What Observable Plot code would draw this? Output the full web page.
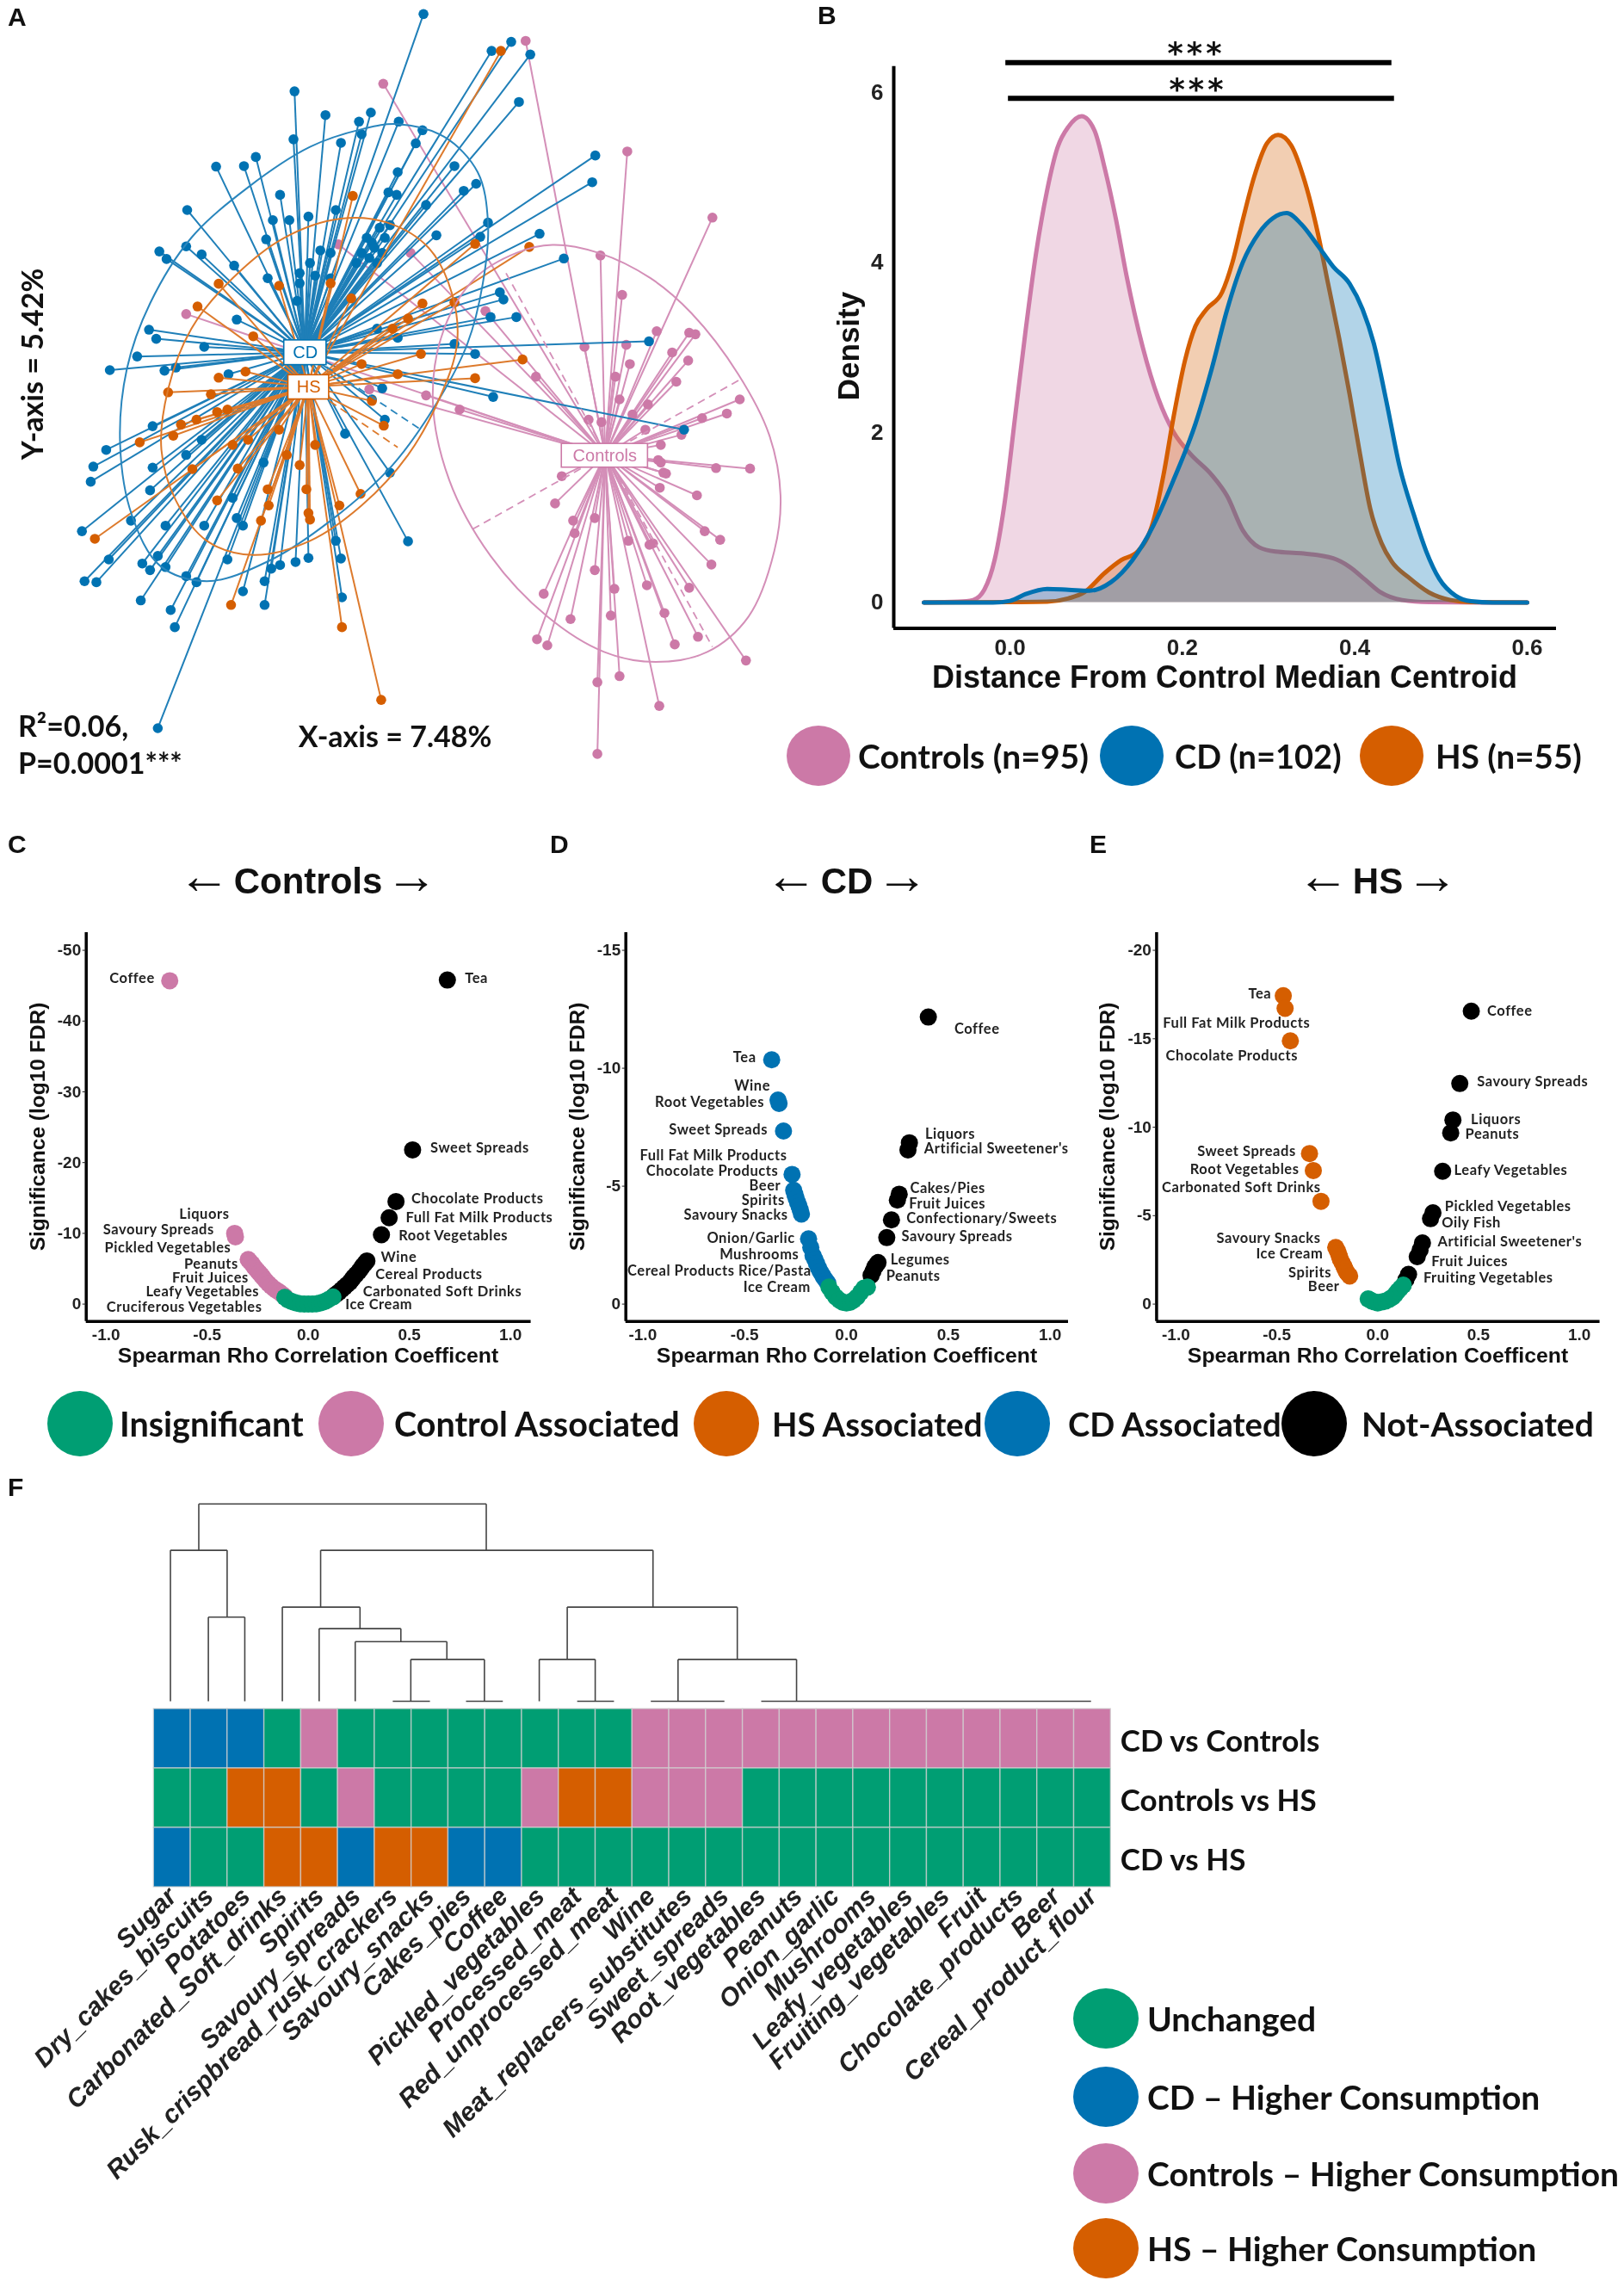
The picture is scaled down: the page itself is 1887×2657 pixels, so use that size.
<!DOCTYPE html>
<html><head><meta charset="utf-8">
<script src="https://cdn.jsdelivr.net/npm/d3@7"></script>
<script src="https://cdn.jsdelivr.net/npm/@observablehq/plot@0.6"></script>
<style>
html,body{margin:0;padding:0;background:#fff}
#fig{position:relative;width:1887px;height:2657px;overflow:hidden;background:#fff;filter:blur(0.6px)}
#fig svg{position:absolute;background:transparent;overflow:visible}
.t{position:absolute;white-space:nowrap;line-height:1;color:#111}
.t span{line-height:0}
.dot{position:absolute;border-radius:50%}
.vlabel text{letter-spacing:.55px}
</style></head><body><div id="fig"></div>
<script>
// ---------- palette
const PINK="#CC79A7",BLUE="#0072B2",ORANGE="#D55E00",GREEN="#009E73",BLACK="#000";
const SANS="Liberation Sans",HUM="Lato";

// ---------- Panel A: ordination scores (arbitrary ordination units)
const centroidCD=[590,697], centroidHS=[597,765], centroidControls=[1172,900];
const scoresCD=[[820,27],[990,82],[952,100],[1027,107],[1005,201],[570,180],[630,227],[695,240],[718,222],[772,240],[818,257],[700,265],[568,275],[660,282],[805,283],[1153,307],[1147,360],[495,310],[472,328],[418,329],[880,328],[770,340],[922,363],[898,377],[752,380],[768,385],[542,385],[362,415],[825,405],[650,415],[528,435],[560,435],[597,428],[945,440],[845,465],[515,473],[360,487],[308,497],[322,512],[390,503],[453,525],[1045,462],[1092,511],[930,468],[620,495],[720,480],[735,450],[700,500],[715,510],[740,500],[518,550],[580,540],[610,545],[640,550],[968,578],[975,592],[1000,627],[950,627],[458,632],[288,652],[302,670],[395,686],[265,705],[212,732],[318,733],[340,727],[442,740],[1257,675],[920,700],[770,668],[880,680],[730,650],[955,785],[740,768],[1325,850],[720,790],[295,843],[205,890],[180,923],[175,953],[295,925],[290,970],[390,870],[360,900],[158,1051],[253,1030],[320,1040],[210,1107],[163,1150],[186,1152],[275,1115],[290,1128],[305,1100],[320,1122],[360,1140],[380,1152],[272,1188],[330,1207],[338,1241],[440,1107],[470,1170],[512,1150],[512,1197],[525,1125],[542,1118],[572,1112],[597,1104],[660,1105],[662,1182],[790,1071],[755,935],[668,858],[745,830],[305,1441],[470,1040],[458,1025],[450,985],[510,915],[650,1070],[395,1040],[725,490],[710,470],[745,470],[690,520],[730,520],[755,445],[580,560],[600,520],[575,595],[640,500]];
const scoresHS=[[970,100],[683,387],[920,482],[1025,488],[423,561],[382,606],[818,600],[880,598],[1012,711],[815,700],[920,748],[770,740],[720,793],[743,842],[325,776],[423,747],[475,735],[270,875],[335,862],[408,780],[183,1066],[372,928],[450,880],[460,927],[593,968],[657,1000],[698,977],[597,1015],[600,1028],[505,1030],[518,968],[447,1197],[662,1241],[738,1385],[610,880],[555,900],[540,565],[490,665],[640,560],[680,590],[760,650],[790,630],[350,840],[380,830],[420,815],[440,810],[480,870],[540,850],[580,920],[520,1000],[420,990],[700,720]];
const scoresControls=[[1018,80],[742,165],[1215,299],[1380,430],[1163,505],[1205,583],[1272,655],[1335,658],[1347,661],[1302,697],[1333,713],[1310,755],[1132,686],[1213,682],[1220,720],[1192,745],[1038,745],[1433,790],[1408,818],[1360,827],[1320,860],[1250,850],[1165,835],[890,810],[825,782],[715,770],[940,615],[795,500],[655,483],[360,621],[1280,880],[1275,910],[1280,915],[1285,935],[1290,937],[1387,926],[1453,927],[1088,942],[1075,996],[1278,965],[1350,980],[1110,1030],[1152,1025],[1113,1055],[1365,1051],[1395,1068],[1217,1070],[1258,1078],[1265,1075],[1378,1117],[1152,1128],[1053,1175],[1190,1165],[1253,1158],[1335,1163],[1105,1225],[1183,1218],[1287,1213],[1040,1265],[1060,1277],[1307,1275],[1352,1260],[1200,1338],[1157,1350],[1445,1307],[1277,1397],[1157,1492],[1255,800],[1225,820],[1200,790],[1140,830]];
const ellipseCD=[[232,880],[245,730],[290,600],[370,470],[480,370],[600,290],[700,255],[770,245],[860,270],[925,340],[945,440],[935,560],[905,680],[850,790],[760,920],[640,1030],[520,1110],[400,1150],[310,1120],[255,1020]];
const ellipseHS=[[312,890],[325,770],[370,650],[450,550],[550,470],[660,432],[750,440],[830,490],[875,580],[885,680],[850,790],[790,900],[700,1000],[600,1070],[490,1098],[400,1070],[340,990]];
const ellipseControls=[[838,790],[860,650],[920,550],[1000,500],[1070,484],[1160,500],[1260,550],[1340,620],[1430,740],[1490,860],[1512,980],[1500,1090],[1450,1220],[1370,1290],[1270,1310],[1170,1290],[1060,1220],[950,1100],[870,950]];
const axesControls=[[[915,1047],[1435,750]],[[980,540],[1380,1280]]];
const axesCD=[[[590,697],[815,850]]];
const axesHS=[[[597,765],[770,885]]];
const ordinationBoxes=[
 {name:"CD",x1:550,y1:673,x2:632,y2:722,color:BLUE},
 {name:"HS",x1:558,y1:742,x2:637,y2:790,color:ORANGE},
 {name:"Controls",x1:1088,y1:878,x2:1255,y2:925,color:PINK}];

// ---------- Panel B: densities
const densityControls=[[-0.1,0],[-0.06,0.01],[-0.043,0.03],[-0.03,0.15],[-0.018,0.5],[-0.006,1.2],[0.006,2.2],[0.018,3.2],[0.03,4.1],[0.043,4.85],[0.055,5.35],[0.068,5.6],[0.083,5.72],[0.098,5.55],[0.11,5.1],[0.123,4.5],[0.135,3.85],[0.154,3.0],[0.172,2.4],[0.19,2.0],[0.209,1.75],[0.234,1.5],[0.252,1.25],[0.27,0.85],[0.289,0.65],[0.308,0.6],[0.338,0.58],[0.375,0.52],[0.394,0.42],[0.412,0.27],[0.43,0.12],[0.455,0.03],[0.486,0.005],[0.548,0],[0.6,0]];
const densityHS=[[-0.1,0],[0,0.005],[0.043,0.01],[0.068,0.05],[0.086,0.12],[0.11,0.35],[0.129,0.5],[0.148,0.6],[0.166,0.95],[0.178,1.5],[0.19,2.2],[0.203,2.85],[0.215,3.25],[0.228,3.45],[0.246,3.65],[0.258,4.0],[0.27,4.5],[0.283,5.0],[0.298,5.4],[0.311,5.5],[0.326,5.38],[0.342,4.95],[0.357,4.35],[0.369,3.75],[0.382,3.1],[0.394,2.45],[0.406,1.75],[0.418,1.1],[0.431,0.7],[0.443,0.48],[0.462,0.3],[0.486,0.12],[0.511,0.03],[0.535,0.005],[0.6,0]];
const densityCD=[[-0.1,0],[-0.02,0],[0,0.02],[0.018,0.1],[0.043,0.16],[0.068,0.15],[0.092,0.14],[0.117,0.24],[0.142,0.5],[0.166,0.9],[0.19,1.45],[0.215,2.1],[0.234,2.75],[0.252,3.45],[0.27,4.0],[0.289,4.35],[0.305,4.52],[0.321,4.58],[0.338,4.45],[0.357,4.2],[0.375,3.95],[0.394,3.75],[0.409,3.45],[0.422,3.05],[0.437,2.35],[0.452,1.6],[0.468,1.05],[0.483,0.6],[0.498,0.28],[0.517,0.08],[0.535,0.015],[0.56,0],[0.6,0]];
const sigBars=[{x1:-0.005,x2:0.443,y:6.35},{x1:-0.002,x2:0.446,y:5.93}];

// ---------- Panels C, D, E: volcano values [rho, log10 FDR]
const controlsBlack=[[.688,-45.8],[.516,-21.8],[.434,-14.5],[.4,-12.2],[.362,-9.8],[.29,-6.1],[.28,-5.75],[.269,-5.4],[.26,-5],[.25,-4.6],[.237,-4.2],[.224,-3.8],[.215,-3.45],[.206,-3.1],[.192,-2.75],[.179,-2.4],[.165,-2.05],[.152,-1.7],[.138,-1.4],[.125,-1.1]];
const controlsPink=[[-.685,-45.7],[-.364,-10],[-.36,-9.5],[-.297,-6.3],[-.288,-6],[-.278,-5.7],[-.269,-5.3],[-.26,-5],[-.251,-4.7],[-.242,-4.4],[-.233,-4.1],[-.224,-3.8],[-.21,-3.3],[-.197,-2.9],[-.184,-2.55],[-.17,-2.2],[-.157,-1.95],[-.143,-1.7],[-.13,-1.4],[-.116,-1.1]];
const controlsGreen=[[-.116,-.95],[-.1,-.6],[-.085,-.4],[-.07,-.25],[-.055,-.12],[-.04,-.05],[-.02,0],[0,0],[.02,0],[.04,-.05],[.055,-.12],[.07,-.25],[.085,-.4],[.1,-.65],[.122,-1]];
const controlsLabels=[["Coffee",-.871,-46],["Tea",.832,-46],["Sweet Spreads",.848,-22.1],["Chocolate Products",.837,-14.9],["Full Fat Milk Products",.846,-12.2],["Root Vegetables",.717,-9.7],["Wine",.448,-6.6],["Cereal Products",.597,-4.2],["Carbonated Soft Drinks",.663,-1.8],["Ice Cream",.349,.1],["Liquors",-.514,-12.7],["Savoury Spreads",-.74,-10.5],["Pickled Vegetables",-.695,-7.9],["Peanuts",-.48,-5.7],["Fruit Juices",-.484,-3.7],["Leafy Vegetables",-.523,-1.7],["Cruciferous Vegetables",-.613,.4]];

const cdBlack=[[.402,-12.17],[.309,-6.84],[.302,-6.54],[.259,-4.66],[.25,-4.41],[.221,-3.57],[.198,-2.82],[.155,-1.76],[.147,-1.66],[.138,-1.56],[.13,-1.39],[.121,-1.22]];
const cdBlue=[[-.367,-10.36],[-.336,-8.65],[-.331,-8.51],[-.309,-7.34],[-.267,-5.5],[-.259,-4.83],[-.253,-4.65],[-.247,-4.49],[-.24,-4.32],[-.233,-4.16],[-.227,-4],[-.221,-3.82],[-.186,-2.77],[-.175,-2.4],[-.164,-2.06],[-.155,-1.9],[-.147,-1.73],[-.138,-1.55],[-.129,-1.39],[-.12,-1.26],[-.112,-1.14],[-.1,-1],[-.091,-.89]];
const cdGreen=[[-.086,-.72],[-.07,-.5],[-.052,-.3],[-.035,-.17],[-.018,-.08],[0,-.05],[.018,-.08],[.035,-.17],[.052,-.3],[.07,-.5],[.086,-.68],[.103,-.72]];
const cdLabels=[["Tea",-.5,-10.44],["Wine",-.462,-9.23],["Root Vegetables",-.672,-8.56],["Sweet Spreads",-.629,-7.37],["Full Fat Milk Products",-.653,-6.28],["Chocolate Products",-.659,-5.62],["Beer",-.4,-5],["Spirits",-.409,-4.38],["Savoury Snacks",-.543,-3.76],["Onion/Garlic",-.469,-2.78],["Mushrooms",-.428,-2.11],["Cereal Products Rice/Pasta",-.624,-1.39],["Ice Cream",-.341,-.72],["Coffee",.641,-11.66],["Liquors",.509,-7.21],["Artificial Sweetener's",.736,-6.59],["Cakes/Pies",.497,-4.91],["Fruit Juices",.495,-4.24],["Confectionary/Sweets",.664,-3.62],["Savoury Spreads",.543,-2.85],["Legumes",.362,-1.86],["Peanuts",.328,-1.17]];

const hsBlack=[[.464,-16.56],[.407,-12.47],[.373,-10.41],[.362,-9.68],[.322,-7.51],[.274,-5.16],[.262,-4.83],[.222,-3.46],[.21,-3.05],[.196,-2.68],[.153,-1.68],[.14,-1.38]];
const hsOrange=[[-.468,-17.43],[-.459,-16.72],[-.433,-14.88],[-.338,-8.51],[-.319,-7.55],[-.281,-5.81],[-.208,-3.2],[-.2,-3.03],[-.194,-2.86],[-.19,-2.7],[-.185,-2.53],[-.176,-2.34],[-.168,-2.15],[-.162,-2],[-.156,-1.85],[-.148,-1.72],[-.139,-1.59]];
const hsGreen=[[-.047,-.29],[-.038,-.24],[-.03,-.18],[-.015,-.12],[0,-.07],[.02,-.12],[.04,-.18],[.058,-.28],[.075,-.4],[.088,-.56],[.1,-.74],[.113,-.9],[.127,-1.07]];
const hsLabels=[["Tea",-.584,-17.54],["Full Fat Milk Products",-.7,-15.89],["Chocolate Products",-.723,-14.03],["Sweet Spreads",-.65,-8.63],["Root Vegetables",-.66,-7.6],["Carbonated Soft Drinks",-.676,-6.61],["Savoury Snacks",-.541,-3.71],["Ice Cream",-.437,-2.84],["Spirits",-.336,-1.79],["Beer",-.267,-1.01],["Coffee",.655,-16.56],["Savoury Spreads",.768,-12.56],["Liquors",.586,-10.41],["Peanuts",.568,-9.61],["Leafy Vegetables",.66,-7.58],["Pickled Vegetables",.646,-5.5],["Oily Fish",.464,-4.58],["Artificial Sweetener's",.655,-3.53],["Fruit Juices",.456,-2.41],["Fruiting Vegetables",.548,-1.47]];

// ---------- Panel F: heatmap + dendrogram
const foods=["Sugar","Dry_cakes_biscuits","Potatoes","Carbonated_Soft_drinks","Spirits","Savoury_spreads","Rusk_crispbread_rusk_crackers","Savoury_snacks","Cakes_pies","Coffee","Pickled_vegetables","Processed_meat","Red_unprocessed_meat","Wine","Meat_replacers_substitutes","Sweet_spreads","Root_vegetables","Peanuts","Onion_garlic","Mushrooms","Leafy_vegetables","Fruiting_vegetables","Fruit","Chocolate_products","Beer","Cereal_product_flour"];
const contrasts=["CD vs Controls","Controls vs HS","CD vs HS"];
const cdVsControls="D D D U C U U U U U U U U C C C C C C C C C C C C C".split(" ");
const controlsVsHS="U U H H U C U U U U C H H C C C U U U U U U U U U U".split(" ");
const cdVsHS="D U U H H D H H D D U U U U U U U U U U U U U U U U".split(" ");
const statusCodes=["U","D","C","H"], statusColors=[GREEN,BLUE,PINK,ORANGE];
// merges: left position, right position, height, left child height, right child height
const merges=[[1.22,9.03,1,.765,.765],[.45,1.99,.765,0,.426],[1.48,2.47,.426,0,0],[4.53,13.56,.765,.477,.477],[3.49,5.6,.477,0,.368],[4.49,6.71,.368,0,.302],[5.47,7.96,.302,0,.212],[6.98,8.98,.212,0,0],[11.23,15.85,.477,.212,.212],[10.47,11.99,.212,0,0],[14.24,17.46,.212,0,0],[6.49,7.5,0,0,0],[8.48,9.48,0,0,0],[11.5,12.5,0,0,0],[13.5,15.5,0,0,0],[16.5,25.46,0,0,0]];

// ---------- helpers
const fig=document.getElementById("fig");
function place(svg,left,top){svg.style.left=left+"px";svg.style.top=top+"px";fig.appendChild(svg);return svg;}
function txt(s,x,y,o={}){const d=document.createElement("div");d.className="t";d.innerHTML=s;
 const a=o.anchor||"left";const tx=a==="center"?"-50%":"0";
 d.style.cssText+=`left:${x}px;top:${y}px;font-family:'${o.family||SANS}';font-size:${o.size||20}px;font-weight:${o.weight||700};color:${o.color||"#111"};transform:translate(${tx},-50%)${o.rotate?` rotate(${o.rotate}deg)`:""};${o.extra||""}`;
 fig.appendChild(d);return d;}
function swatch(x,y,rx,ry,c){const d=document.createElement("div");d.className="dot";d.style.cssText+=`left:${x-rx}px;top:${y-ry}px;width:${2*rx}px;height:${2*ry}px;background:${c}`;fig.appendChild(d);}
const xy={x:d=>d[0],y:d=>d[1]};

// ---------- Panel A
place(Plot.plot({width:940,height:920,margin:0,
 x:{domain:[0,1568],axis:null},y:{domain:[1568,0],axis:null},
 marks:[
  ...[[scoresControls,centroidControls,PINK,"#d48fb8"],[scoresCD,centroidCD,BLUE,"#1f7fb8"],[scoresHS,centroidHS,ORANGE,"#dd7a2c"]].flatMap(([s,c,col,lin])=>[
    Plot.link(s,{x1:()=>c[0],y1:()=>c[1],x2:d=>d[0],y2:d=>d[1],stroke:lin,strokeWidth:2}),
    Plot.dot(s,{...xy,r:5.8,fill:col})]),
  Plot.line(ellipseControls,{...xy,curve:"catmull-rom-closed",stroke:"#d48fb8",strokeWidth:2}),
  Plot.line(ellipseCD,{...xy,curve:"catmull-rom-closed",stroke:"#2a86bd",strokeWidth:2}),
  Plot.line(ellipseHS,{...xy,curve:"catmull-rom-closed",stroke:"#dd7a2c",strokeWidth:2}),
  ...[[axesControls,"#d48fb8"],[axesCD,"#2a86bd"],[axesHS,"#dd7a2c"]].map(([a,c])=>
    Plot.link(a,{x1:d=>d[0][0],y1:d=>d[0][1],x2:d=>d[1][0],y2:d=>d[1][1],stroke:c,strokeWidth:1.8,strokeDasharray:"9,6"})),
  Plot.rect(ordinationBoxes,{x1:"x1",x2:"x2",y1:"y1",y2:"y2",fill:"#fff",stroke:"color",strokeWidth:1.6}),
  Plot.text(ordinationBoxes,{x:d=>(d.x1+d.x2)/2,y:d=>(d.y1+d.y2)/2,text:"name",fill:"color",fontSize:20,fontFamily:SANS})
 ]}),0,0);
txt("A",9,20,{size:30});
txt("Y-axis = 5.42%",37,423,{size:34,family:HUM,anchor:"center",rotate:-90});
txt("X-axis = 7.48%",459,855,{size:34,family:HUM,anchor:"center"});
txt("R²=0.06,",21,843,{size:34,family:HUM});
txt("P=0.0001***",21,886,{size:34,family:HUM});

// ---------- Panel B
const curve="monotone-x";
place(Plot.plot({width:927,height:860,marginLeft:78,marginRight:79,marginTop:76.7,marginBottom:130.4,
 x:{domain:[-0.135,0.634]},y:{domain:[-0.304,6.305]},
 marks:[
  ...[[densityControls,PINK],[densityHS,ORANGE],[densityCD,BLUE]].flatMap(([s,c])=>[
    Plot.areaY(s,{...xy,curve,fill:c,fillOpacity:.3}),
    Plot.line(s,{...xy,curve,stroke:c,strokeWidth:5})]),
  Plot.ruleX([-0.135],{strokeWidth:4,stroke:"#000"}),
  Plot.ruleY([-0.304],{strokeWidth:4,stroke:"#000"}),
  Plot.ruleY(sigBars,{x1:"x1",x2:"x2",y:"y",stroke:"#000",strokeWidth:6}),
  Plot.axisX({ticks:[0,.2,.4,.6],tickFormat:d=>d.toFixed(1),tickSize:0,tickPadding:12,fontSize:26,fontWeight:700,fontFamily:SANS,label:null,color:"#222"}),
  Plot.axisY({ticks:[0,2,4,6],tickFormat:d=>String(d),tickSize:0,tickPadding:12,fontSize:26,fontWeight:700,fontFamily:SANS,label:null,color:"#222"})
 ]}),960,0);
txt("B",950,18,{size:30});
txt("***",1390,62,{size:35,anchor:"center",family:"DejaVu Sans",extra:"letter-spacing:4px;"});
txt("***",1392,104,{size:35,anchor:"center",family:"DejaVu Sans",extra:"letter-spacing:4px;"});
txt("Density",985,402,{size:35,anchor:"center",rotate:-90});
txt("Distance From Control Median Centroid",1423,787,{size:36,anchor:"center"});
[[951,PINK,"Controls (n=95)",997,39],[1315,BLUE,"CD (n=102)",1365,38],[1617,ORANGE,"HS (n=55)",1668,38.5]].forEach(([x,c,s,tx,sz])=>{swatch(x,878,37,35,c);txt(s,tx,878,{size:sz,family:HUM});});

// ---------- Panels C, D, E
function volcano({left,axisL,axisR,xDomain,yDomain,yTicks,groups,labels}){
 const top=1060,h=560,w=axisR-left+30;
 place(Plot.plot({width:w,height:h,marginLeft:axisL-left,marginRight:w-(axisR-left),marginTop:23,marginBottom:85.2,
  x:{domain:xDomain},y:{domain:yDomain},
  marks:[
   ...groups.map(([s,c])=>Plot.dot(s,{...xy,r:10,fill:c})),
   Plot.text(labels,{x:d=>d[1],y:d=>d[2],text:d=>d[0],fontSize:16.5,fontWeight:700,fontFamily:HUM,fill:"#222",className:"vlabel"}),
   Plot.ruleX([xDomain[0]],{strokeWidth:3.5,stroke:"#000"}),
   Plot.ruleY([yDomain[0]],{strokeWidth:3.5,stroke:"#000"}),
   Plot.axisX({ticks:[-1,-.5,0,.5,1],tickFormat:d=>d.toFixed(1),tickSize:0,tickPadding:8,fontSize:19,fontWeight:700,fontFamily:SANS,label:null,color:"#222"}),
   Plot.axisY({ticks:yTicks,tickFormat:d=>String(d),tickSize:4,tickPadding:2,fontSize:19,fontWeight:700,fontFamily:SANS,label:null,color:"#222"})
  ]}),left,top);
}
volcano({left:0,axisL:99.7,axisR:616.6,xDomain:[-1.098,1.102],yDomain:[2.457,-52.5],yTicks:[0,-10,-20,-30,-40,-50],
 groups:[[controlsBlack,BLACK],[controlsPink,PINK],[controlsGreen,GREEN]],labels:controlsLabels});
volcano({left:640,axisL:726.7,axisR:1241,xDomain:[-1.083,1.09],yDomain:[.737,-15.75],yTicks:[0,-5,-10,-15],
 groups:[[cdBlack,BLACK],[cdBlue,BLUE],[cdGreen,GREEN]],labels:cdLabels});
volcano({left:1260,axisL:1343.4,axisR:1858.6,xDomain:[-1.096,1.102],yDomain:[.983,-21],yTicks:[0,-5,-10,-15,-20],
 groups:[[hsBlack,BLACK],[hsOrange,ORANGE],[hsGreen,GREEN]],labels:hsLabels});
[["C",9,"Controls",358,44],["D",639,"CD",984,671],["E",1266,"HS",1601,1287]].forEach(([L,lx,name,cx,ylx])=>{
 txt(L,lx,981,{size:30});
 const arrow=a=>`<span style="font-weight:400;font-size:1.45em">${a}</span>`;
 txt(`${arrow("←")} ${name} ${arrow("→")}`,cx,1024,{size:42,anchor:"center",extra:"word-spacing:-8px;"});
 txt("Significance (log10 FDR)",ylx,1309,{size:24.5,anchor:"center",rotate:-90});
 txt("Spearman Rho Correlation Coefficent",cx,1575,{size:24.8,anchor:"center"});
});
[[93,GREEN,"Insignificant",139,39.5],[408,PINK,"Control Associated",458,39.5],[844,ORANGE,"HS Associated",897,38.3],[1182,BLUE,"CD Associated",1241,38.2],[1527,BLACK,"Not-Associated",1582,39]].forEach(([x,c,s,tx,sz])=>{swatch(x,1654,38,38,c);txt(s,tx,1654,{size:sz,family:HUM});});

// ---------- Panel F
txt("F",9,1728,{size:30});
const dendroLinks=merges.flatMap(([l,r,h,hl,hr])=>[[l,h,r,h],[l,hl,l,h],[r,hr,r,h]]);
place(Plot.plot({width:1887,height:240,marginLeft:178.3,marginRight:596.7,marginTop:6.7,marginBottom:4,
 x:{domain:[0,26],axis:null},y:{domain:[0,1],axis:null},
 marks:[Plot.link(dendroLinks,{x1:d=>d[0],y1:d=>d[1],x2:d=>d[2],y2:d=>d[3],stroke:"#444",strokeWidth:1.6})]}),0,1740);
const heat=[cdVsControls,controlsVsHS,cdVsHS].flatMap((row,i)=>row.map((s,j)=>({food:foods[j],contrast:contrasts[i],status:s})));
place(Plot.plot({width:1887,height:207+470,marginLeft:178.3,marginRight:596.7,marginTop:0,marginBottom:470,
 x:{domain:foods,padding:0,round:false},y:{domain:contrasts,padding:0,round:false},
 color:{domain:statusCodes,range:statusColors},
 marks:[
  Plot.cell(heat,{x:"food",y:"contrast",fill:"status",stroke:"#d0d0d0",strokeWidth:1.4,strokeOpacity:.75}),
  Plot.axisX({tickRotate:-45,tickSize:0,tickPadding:6,fontSize:30,fontWeight:700,fontStyle:"italic",fontFamily:SANS,label:null,color:"#222"}),
  Plot.axisY({anchor:"right",tickSize:0,tickPadding:11,dy:4,fontSize:35,fontWeight:700,fontFamily:HUM,label:null,color:"#111"})
 ]}),0,1985);
[[2345,GREEN,"Unchanged"],[2436,BLUE,"CD – Higher Consumption"],[2525,PINK,"Controls – Higher Consumption"],[2612,ORANGE,"HS – Higher Consumption"]].forEach(([y,c,s])=>{swatch(1285,y,38,35,c);txt(s,1333,y,{size:39,family:HUM});});
</script></body></html>
